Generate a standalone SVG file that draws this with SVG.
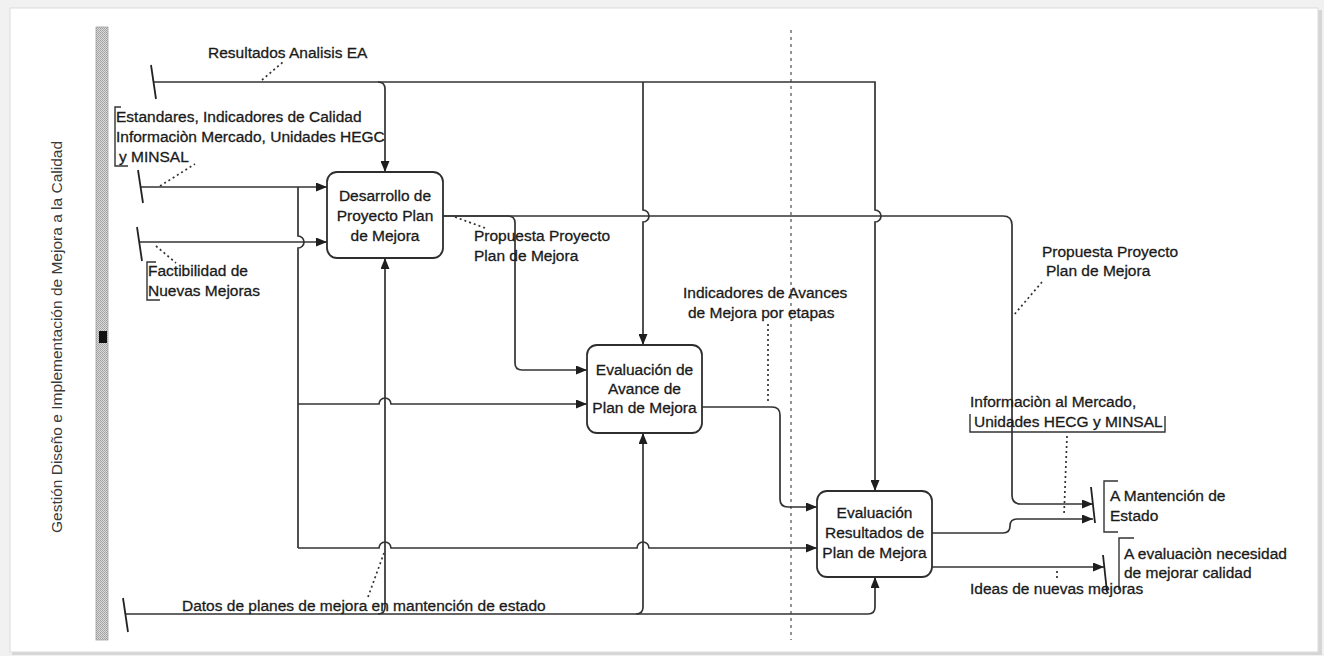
<svg xmlns="http://www.w3.org/2000/svg" width="1324" height="656" viewBox="0 0 1324 656">
  <defs>
    <style>
      .txt { font-family: "Liberation Sans", Arial, sans-serif; font-size: 15.5px; fill: #1a1a1a; stroke: #1a1a1a; stroke-width: 0.3; }
      .box { fill: #ffffff; stroke: #2e2e2e; stroke-width: 1.8; }
      .box-txt { text-anchor: middle; }
      .wire { fill: none; stroke: #333333; stroke-width: 1.7; }
      .arrow { marker-end: url(#arrowhead); }
      .leader { fill: none; stroke: #333333; stroke-width: 1.7; stroke-dasharray: 2 3; }
      .tick { fill: none; stroke: #222222; stroke-width: 1.8; }
      .bracket { fill: none; stroke: #333333; stroke-width: 1.4; }
    </style>
    <marker id="arrowhead" markerUnits="userSpaceOnUse" markerWidth="11" markerHeight="9" refX="11" refY="4.5" orient="auto">
      <path d="M0,0 L11,4.5 L0,9 z" fill="#1e1e1e"/>
    </marker>
    <pattern id="stipple" width="2" height="2" patternUnits="userSpaceOnUse">
      <rect width="2" height="2" fill="#dcdcdc"/>
      <rect width="1" height="1" fill="#9c9c9c"/>
      <rect x="1" y="1" width="1" height="1" fill="#a8a8a8"/>
    </pattern>
  </defs>

  <!-- page frame -->
  <rect x="0" y="0" width="1324" height="656" fill="#f1f1f1"/>
  <rect x="12" y="10" width="1310" height="645" fill="#d6d6d6"/>
  <rect x="10" y="8" width="1308" height="644" fill="#ffffff" stroke="#dcdcdc" stroke-width="1"/>

  <!-- swimlane title and bar -->
  <g id="lane">
    <text class="txt" transform="translate(62,337) rotate(-90)" text-anchor="middle" style="fill:#3a3a3a;stroke:none">Gestión Diseño e Implementación de Mejora a la Calidad</text>
    <rect x="96" y="27" width="12" height="613" fill="url(#stipple)" stroke="#a0a0a0" stroke-width="0.8"/>
    <rect x="99" y="331" width="8" height="12" fill="#111111"/>
  </g>

  <!-- lane divider -->
  <line x1="791" y1="30" x2="791" y2="640" stroke="#7a7a7a" stroke-width="1.6" stroke-dasharray="3 4"/>

  <!-- connectors -->
  <g id="connectors">
    <!-- Resultados Analisis EA (control from above) -->
    <path class="wire arrow" d="M153,82 H875 V210 A6,6 0 0 1 875,222 V491"/>
    <path class="wire arrow" d="M378,82 Q385,82 385,89 V172"/>
    <path class="wire arrow" d="M643,82 V210 A6,6 0 0 1 643,222 V345"/>

    <!-- Estandares input and its branches -->
    <path class="wire arrow" d="M140,187 H327"/>
    <path class="wire" d="M298,187 V236 A6,6 0 0 1 298,248 V548"/>
    <path class="wire arrow" d="M298,404 H379 A6,6 0 0 1 391,404 H587"/>
    <path class="wire arrow" d="M298,548 H379 A6,6 0 0 1 391,548 H637 A6,6 0 0 1 649,548 H817"/>

    <!-- Factibilidad input -->
    <path class="wire arrow" d="M140,242 H327"/>

    <!-- Datos de planes de mejora (mechanism from below) -->
    <path class="wire arrow" d="M126,614 H868 Q875,614 875,607 V577"/>
    <path class="wire arrow" d="M378,614 Q385,614 385,607 V258"/>
    <path class="wire arrow" d="M636,614 Q643,614 643,607 V433"/>

    <!-- Desarrollo outputs -->
    <path class="wire arrow" d="M443,216 H508 Q515,216 515,223 V363 Q515,370 522,370 H587"/>
    <path class="wire arrow" d="M443,216 H1003 Q1012,216 1012,225 V495 Q1012,504 1021,504 H1093"/>

    <!-- Evaluacion de Avance output -->
    <path class="wire arrow" d="M702,407 H772 Q780,407 780,415 V499 Q780,507 788,507 H817"/>

    <!-- Evaluacion Resultados outputs -->
    <path class="wire arrow" d="M932,533 H1003 Q1010,533 1010,526 Q1010,519 1017,519 H1093"/>
    <path class="wire arrow" d="M932,567 H1104"/>

    <!-- boundary ticks -->
    <line class="tick" x1="151" y1="65" x2="156" y2="99"/>
    <line class="tick" x1="138" y1="170" x2="143" y2="203"/>
    <line class="tick" x1="137" y1="227" x2="142" y2="261"/>
    <line class="tick" x1="123" y1="598" x2="128" y2="632"/>
    <line class="tick" x1="1091" y1="487" x2="1095" y2="523"/>
    <line class="tick" x1="1103" y1="555" x2="1107" y2="592"/>

    <!-- label leaders -->
    <line class="leader" x1="262" y1="80" x2="283" y2="62"/>
    <line class="leader" x1="160" y1="186" x2="195" y2="164"/>
    <line class="leader" x1="156" y1="246" x2="176" y2="263"/>
    <line class="leader" x1="455" y1="217" x2="485" y2="228"/>
    <line class="leader" x1="1042" y1="282" x2="1013" y2="316"/>
    <line class="leader" x1="768" y1="324" x2="768" y2="404"/>
    <line class="leader" x1="1067" y1="436" x2="1064" y2="515"/>
    <line class="leader" x1="1057" y1="571" x2="1057" y2="581"/>
    <line class="leader" x1="368" y1="597" x2="384" y2="553"/>
  </g>

  <!-- activity boxes -->
  <g id="desarrollo">
    <rect class="box" x="327" y="172" width="116" height="86" rx="10"/>
    <text class="txt box-txt" x="385" y="201">Desarrollo de</text>
    <text class="txt box-txt" x="385" y="221">Proyecto Plan</text>
    <text class="txt box-txt" x="385" y="241">de Mejora</text>
  </g>
  <g id="evaluacion-avance">
    <rect class="box" x="587" y="345" width="115" height="88" rx="10"/>
    <text class="txt box-txt" x="644.5" y="375">Evaluación de</text>
    <text class="txt box-txt" x="644.5" y="394">Avance de</text>
    <text class="txt box-txt" x="644.5" y="413">Plan de Mejora</text>
  </g>
  <g id="evaluacion-resultados">
    <rect class="box" x="817" y="491" width="115" height="86" rx="10"/>
    <text class="txt box-txt" x="874.5" y="518">Evaluación</text>
    <text class="txt box-txt" x="874.5" y="538">Resultados de</text>
    <text class="txt box-txt" x="874.5" y="558">Plan de Mejora</text>
  </g>

  <!-- arrow labels -->
  <g id="label-resultados">
    <text class="txt" x="208" y="58">Resultados Analisis EA</text>
  </g>
  <g id="label-estandares">
    <path class="bracket" d="M121,107 H115 V166 H128"/>
    <text class="txt" x="116" y="122">Estandares, Indicadores de Calidad</text>
    <text class="txt" x="116" y="142">Informaciòn Mercado, Unidades HEGC</text>
    <text class="txt" x="119" y="162">y MINSAL</text>
  </g>
  <g id="label-factibilidad">
    <path class="bracket" d="M156,262 H147 V300 H160"/>
    <text class="txt" x="148" y="276">Factibilidad de</text>
    <text class="txt" x="148" y="296">Nuevas Mejoras</text>
  </g>
  <g id="label-propuesta-1">
    <text class="txt" x="474" y="241">Propuesta Proyecto</text>
    <text class="txt" x="474" y="261">Plan de Mejora</text>
  </g>
  <g id="label-indicadores">
    <text class="txt" x="683" y="298">Indicadores de Avances</text>
    <text class="txt" x="688" y="318">de Mejora por etapas</text>
  </g>
  <g id="label-propuesta-2">
    <text class="txt" x="1042" y="257">Propuesta Proyecto</text>
    <text class="txt" x="1046" y="276">Plan de Mejora</text>
  </g>
  <g id="label-informacion">
    <path class="bracket" d="M970,414 V432 H1165 V416"/>
    <text class="txt" x="970" y="407">Informaciòn al Mercado,</text>
    <text class="txt" x="974" y="427">Unidades HECG y MINSAL</text>
  </g>
  <g id="label-mantencion">
    <path class="bracket" d="M1118,481 H1104 V532 H1118"/>
    <text class="txt" x="1110" y="501">A Mantención de</text>
    <text class="txt" x="1110" y="521">Estado</text>
  </g>
  <g id="label-necesidad">
    <path class="bracket" d="M1134,538 H1119 V590"/>
    <text class="txt" x="1124" y="559">A evaluaciòn necesidad</text>
    <text class="txt" x="1124" y="578">de mejorar calidad</text>
  </g>
  <g id="label-ideas">
    <text class="txt" x="970" y="594">Ideas de nuevas mejoras</text>
  </g>
  <g id="label-datos">
    <text class="txt" x="182" y="611">Datos de planes de mejora en mantención de estado</text>
  </g>
</svg>
